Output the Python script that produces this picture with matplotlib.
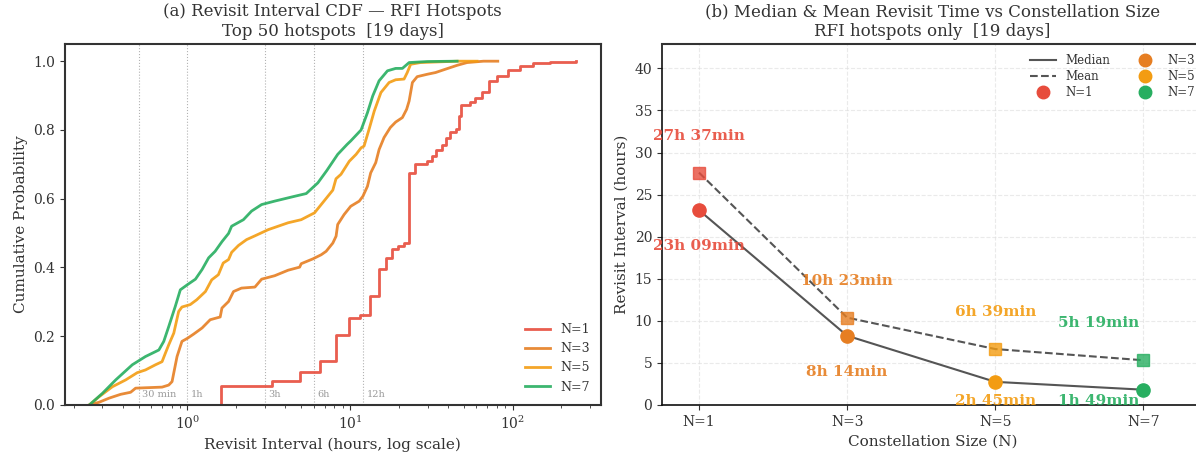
import numpy as np
import matplotlib
matplotlib.use('Agg')
import matplotlib.pyplot as plt
from matplotlib.lines import Line2D

plt.rcParams['font.family'] = ['DejaVu Serif']
plt.rcParams['text.color'] = '#333333'
plt.rcParams['axes.labelcolor'] = '#333333'
plt.rcParams['xtick.color'] = '#333333'
plt.rcParams['ytick.color'] = '#333333'

# colours per constellation size
colors = {'N=1': '#e74c3c', 'N=3': '#e67e22', 'N=5': '#f39c12', 'N=7': '#27ae60'}

# CDF readings (hours, cumulative probability)
x1 = [1.61, 1.61, 3.29, 4.9, 6.5, 8.2, 9.8, 11.6, 13.2, 15.0, 16.6, 18.2, 19.8, 21.5,
      23.1, 25.1, 29.9, 32.0, 33.6, 36.9, 38.7, 41.5, 45.1, 46.6, 48.2, 55, 59, 64.8,
      71.2, 80, 94.2, 111, 134, 170, 247]
y1 = [0, 0.056, 0.070, 0.097, 0.128, 0.204, 0.253, 0.262, 0.316, 0.396, 0.427, 0.454,
      0.463, 0.471, 0.675, 0.702, 0.709, 0.724, 0.743, 0.755, 0.777, 0.794, 0.804,
      0.841, 0.873, 0.880, 0.894, 0.911, 0.943, 0.957, 0.975, 0.986, 0.994, 0.998, 1.0]

x3 = [0.249, 0.286, 0.330, 0.388, 0.447, 0.480, 0.698, 0.767, 0.804, 0.863, 0.925, 1.0,
      1.09, 1.23, 1.38, 1.59, 1.63, 1.79, 1.92, 2.15, 2.60, 2.86, 3.44, 4.16, 4.90, 5.01,
      5.91, 6.65, 7.13, 7.84, 8.21, 8.4, 9.2, 10.1, 11.4, 12.0, 12.8, 13.4, 14.4, 15.1,
      16.2, 17.7, 19.1, 21.0, 22.3, 23.1, 24.2, 25.9, 29.9, 33.6, 37.7, 45.6, 52.5,
      66.3, 81.1]
y3 = [0, 0.008, 0.020, 0.031, 0.037, 0.049, 0.052, 0.058, 0.068, 0.141, 0.185, 0.194,
      0.206, 0.224, 0.248, 0.256, 0.282, 0.301, 0.330, 0.340, 0.343, 0.366, 0.376,
      0.392, 0.401, 0.411, 0.425, 0.437, 0.447, 0.471, 0.491, 0.525, 0.554, 0.578,
      0.593, 0.607, 0.636, 0.675, 0.705, 0.743, 0.778, 0.807, 0.823, 0.836, 0.860,
      0.884, 0.938, 0.955, 0.962, 0.967, 0.975, 0.988, 0.996, 1.0, 1.0]

x5 = [0.249, 0.286, 0.345, 0.417, 0.491, 0.552, 0.636, 0.698, 0.732, 0.767, 0.824, 0.883,
      0.925, 1.04, 1.14, 1.29, 1.41, 1.55, 1.66, 1.79, 1.87, 2.06, 2.31, 2.60, 3.14,
      4.16, 5.01, 6.05, 6.97, 7.84, 8.2, 8.8, 9.9, 10.9, 11.7, 12.2, 13.1, 14.1, 15.5,
      17.4, 19.1, 21.5, 22.5, 23.6, 27.1, 45.6, 60.5]
y5 = [0, 0.024, 0.053, 0.073, 0.094, 0.102, 0.117, 0.126, 0.151, 0.175, 0.209, 0.272,
      0.285, 0.292, 0.306, 0.330, 0.364, 0.379, 0.413, 0.423, 0.444, 0.464, 0.481,
      0.492, 0.510, 0.530, 0.539, 0.559, 0.595, 0.625, 0.658, 0.671, 0.709, 0.729,
      0.748, 0.753, 0.802, 0.855, 0.909, 0.938, 0.946, 0.948, 0.967, 0.991, 0.996,
      1.0, 1.0]

x7 = [0.249, 0.300, 0.362, 0.458, 0.552, 0.667, 0.715, 0.767, 0.842, 0.904, 1.0, 1.12,
      1.23, 1.35, 1.48, 1.63, 1.79, 1.87, 2.21, 2.48, 2.86, 3.44, 4.56, 5.38, 6.34, 7.2,
      8.4, 9.6, 10.1, 11.7, 12.8, 13.8, 15.1, 17.0, 19.1, 21.0, 23.1, 29.9, 45.6]
y7 = [0, 0.034, 0.073, 0.117, 0.141, 0.160, 0.185, 0.228, 0.287, 0.335, 0.350, 0.366,
      0.394, 0.428, 0.447, 0.475, 0.499, 0.520, 0.539, 0.564, 0.583, 0.593, 0.607,
      0.615, 0.646, 0.682, 0.729, 0.758, 0.768, 0.800, 0.850, 0.899, 0.943, 0.972,
      0.979, 0.979, 0.996, 0.999, 1.0]

# reference lines on the CDF
ref_hours = [0.5, 1, 3, 6, 12]
ref_labels = ['30 min', '1h', '3h', '6h', '12h']

# panel (b) summary
sizes = ['N=1', 'N=3', 'N=5', 'N=7']
median_h = [23.15, 8.233, 2.75, 1.817]
mean_h = [27.617, 10.383, 6.65, 5.317]
median_lbl = ['23h 09min', '8h 14min', '2h 45min', '1h 49min']
mean_lbl = ['27h 37min', '10h 23min', '6h 39min', '5h 19min']

fig = plt.figure(figsize=(11.96, 4.55), dpi=100)
ax1 = fig.add_axes([0.0543, 0.1099, 0.448, 0.7934])
ax2 = fig.add_axes([0.5535, 0.1099, 0.452, 0.7934])

# ---- (a) CDF
for h in ref_hours:
    ax1.axvline(h, color='gray', ls=':', lw=0.8, alpha=0.6, zorder=0)
for h, lab in zip(ref_hours, ref_labels):
    ax1.text(h * 1.05, 0.018, lab, fontsize=7, color='gray', alpha=0.8, ha='left', va='bottom')

ax1.plot(x1, y1, drawstyle='steps-post', color=colors['N=1'], lw=2, alpha=0.9, label='N=1')
ax1.plot(x3, y3, color=colors['N=3'], lw=2, alpha=0.9, label='N=3')
ax1.plot(x5, y5, color=colors['N=5'], lw=2, alpha=0.9, label='N=5')
ax1.plot(x7, y7, color=colors['N=7'], lw=2, alpha=0.9, label='N=7')
ax1.set_xscale('log')
ax1.set_ylim(0, 1.05)
ax1.set_xlabel('Revisit Interval (hours, log scale)', fontsize=11)
ax1.set_ylabel('Cumulative Probability', fontsize=11)
ax1.set_title('(a) Revisit Interval CDF — RFI Hotspots\nTop 50 hotspots  [19 days]', fontsize=12)
ax1.tick_params(labelsize=10)
for s in ax1.spines.values():
    s.set_linewidth(1.5)
    s.set_color('#333333')
ax1.legend(loc='lower right', frameon=False, fontsize=9)

# ---- (b) median & mean
xs = np.arange(len(sizes))
ax2.plot(xs, median_h, color='#555555', lw=1.5, ls='-', zorder=2)
ax2.plot(xs, mean_h, color='#555555', lw=1.5, ls='--', zorder=2)
for i, n in enumerate(sizes):
    ax2.plot(xs[i], median_h[i], 'o', color=colors[n], ms=9.5, zorder=3)
    ax2.plot(xs[i], mean_h[i], 's', color=colors[n], ms=8, alpha=0.8, zorder=3)
    last = i == len(sizes) - 1
    tx = xs[i] - 0.03 if last else xs[i]
    ha = 'right' if last else 'center'
    ax2.text(tx, mean_h[i] + 4.4, mean_lbl[i], color=colors[n], fontsize=11,
             fontweight='bold', ha=ha, va='center', alpha=0.9)
    ax2.text(tx, max(median_h[i] - 4.3, 0.45), median_lbl[i], color=colors[n],
             fontsize=11, fontweight='bold', ha=ha, va='center', alpha=0.9)

ax2.set_xticks(xs)
ax2.set_xticklabels(sizes)
ax2.set_xlim(-0.25, 3.4)
ax2.set_ylim(0, 42.9)
ax2.set_xlabel('Constellation Size (N)', fontsize=11)
ax2.set_ylabel('Revisit Interval (hours)', fontsize=11)
ax2.set_title('(b) Median & Mean Revisit Time vs Constellation Size\nRFI hotspots only  [19 days]',
              fontsize=12)
ax2.tick_params(labelsize=10)
ax2.grid(True, ls='--', color='#dddddd', alpha=0.6, lw=0.8)
ax2.set_axisbelow(True)
ax2.spines['right'].set_visible(False)
ax2.spines['top'].set_linewidth(1.5)
ax2.spines['top'].set_color('#333333')
for s in ['left', 'bottom']:
    ax2.spines[s].set_linewidth(1.2)
    ax2.spines[s].set_color('#111111')

handles = [Line2D([], [], color='#555555', lw=1.5, ls='-'),
           Line2D([], [], color='#555555', lw=1.5, ls='--')]
handles += [Line2D([], [], marker='o', color=colors[n], ls='', ms=9) for n in sizes]
labels = ['Median', 'Mean'] + sizes
fig.legend(handles, labels, loc='upper right', bbox_to_anchor=(1.008, 0.905), ncol=2,
           frameon=False, fontsize=8.5, columnspacing=1.8, handlelength=2.2,
           labelspacing=0.25)

fig.savefig('out.png', dpi=100)
